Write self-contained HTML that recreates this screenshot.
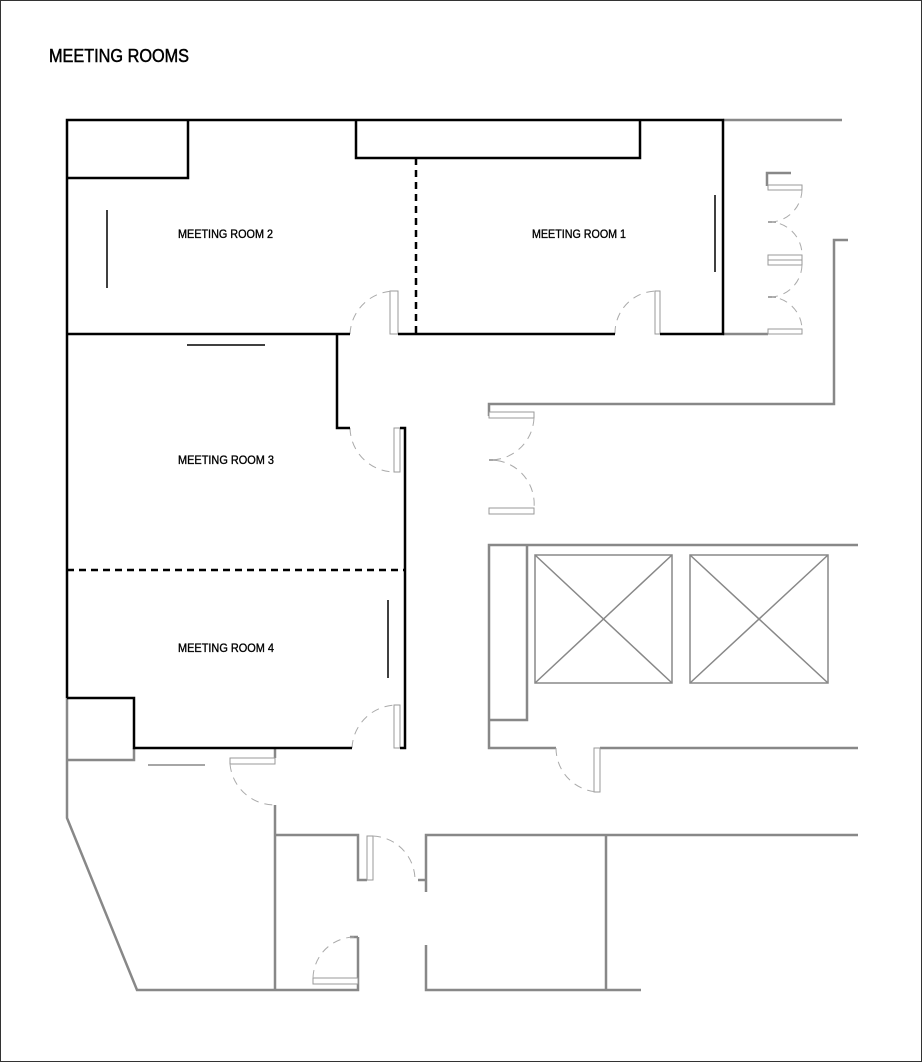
<!DOCTYPE html>
<html><head><style>
html,body{margin:0;padding:0;background:#fff;}
svg{display:block}
text{font-family:"Liberation Sans",sans-serif;fill:#000;stroke:#000;stroke-width:0.35}
</style></head><body>
<svg width="922" height="1062" viewBox="0 0 922 1062" xmlns="http://www.w3.org/2000/svg">
<rect x="0.5" y="0.5" width="921" height="1061" fill="#fff" stroke="#333" stroke-width="1"/>
<text x="49" y="62" font-size="18" style="stroke-width:0.5" textLength="140" lengthAdjust="spacingAndGlyphs">MEETING ROOMS</text>
<g font-size="12" >
<text x="178" y="238" textLength="95" lengthAdjust="spacingAndGlyphs">MEETING ROOM 2</text>
<text x="532" y="238" textLength="94" lengthAdjust="spacingAndGlyphs">MEETING ROOM 1</text>
<text x="178" y="464" textLength="96" lengthAdjust="spacingAndGlyphs">MEETING ROOM 3</text>
<text x="178" y="652" textLength="96" lengthAdjust="spacingAndGlyphs">MEETING ROOM 4</text>
</g>
<g stroke="#888" stroke-width="2.5" fill="none">
<path d="M723 120H842"/>
<path d="M723 334H768"/>
<path d="M767 186V173H791"/>
<path d="M848 240H834V404H489V416"/>
<path d="M858 545H489V748H556"/>
<path d="M489 720H527V545"/>
<path d="M600 748H858"/>
<path d="M858 835H426V892"/>
<path d="M426 945V990H641"/>
<path d="M606 835V990"/>
<path d="M67 698V818L137 990H358V937"/>
<path d="M67 760H134V748"/>
<path d="M275 748V758"/>
<path d="M275 805V990"/>
<path d="M275 835H358V880H367"/>
<path d="M418 880H426"/>
<path d="M358 937H350"/>
</g>
<g stroke="#888" stroke-width="1.5" fill="none">
<rect x="535" y="555" width="137" height="128"/>
<path d="M535 555L672 683M672 555L535 683"/>
<rect x="690" y="555" width="138" height="128"/>
<path d="M690 555L828 683M828 555L690 683"/>
<path d="M148 765H205"/>
<path d="M768 222H776M768 297H776M489 460H497"/>
</g>
<g stroke="#999" stroke-width="1" fill="#fff">
<rect x="390" y="291" width="8" height="43"/>
<rect x="655" y="291" width="5" height="43"/>
<rect x="394" y="428" width="6" height="44"/>
<rect x="394" y="705" width="6" height="43"/>
<rect x="768" y="185" width="34" height="5"/>
<rect x="768" y="255" width="34" height="5"/>
<rect x="768" y="260" width="34" height="5"/>
<rect x="768" y="329" width="34" height="5"/>
<rect x="489" y="412" width="45" height="6"/>
<rect x="489" y="508" width="45" height="6"/>
<rect x="594" y="748" width="6" height="44"/>
<rect x="230" y="758" width="45" height="6"/>
<rect x="367" y="836" width="6" height="44"/>
<rect x="313" y="978" width="45" height="6"/>
</g>
<g stroke="#aaa" stroke-width="1" fill="none" stroke-dasharray="8,6">
<path d="M350 334A45 45 0 0 1 394 291"/>
<path d="M350 428A45 45 0 0 0 394 472"/>
<path d="M615 334A42 42 0 0 1 657 291"/>
<path d="M352 748A45 45 0 0 1 396 705"/>
<path d="M802 190A33 33 0 0 1 772 222A33 33 0 0 1 802 255"/>
<path d="M802 265A33 33 0 0 1 772 297A33 33 0 0 1 802 329"/>
<path d="M534 418A44 44 0 0 1 492 460A44 44 0 0 1 534 508"/>
<path d="M556 748A44 44 0 0 0 600 792"/>
<path d="M230 764A45 45 0 0 0 275 805"/>
<path d="M373 836A44 44 0 0 1 415 880"/>
<path d="M313 978A42 42 0 0 1 355 937"/>
</g>
<g stroke="#000" stroke-width="2.5" fill="none">
<path d="M67 698V120H723V334H660"/>
<path d="M67 178H188V120"/>
<path d="M356 120V158H640V120"/>
<path d="M67 334H350"/>
<path d="M398 334H615"/>
<path d="M337 334V428H350"/>
<path d="M400 428H405V748H400"/>
<path d="M67 698H134V748H352"/>
</g>
<g stroke="#000" stroke-width="2.5" fill="none" stroke-dasharray="7,5">
<path d="M416 158V333"/>
<path d="M67 570H405"/>
</g>
<g stroke="#000" stroke-width="1.5">
<path d="M107 210V288"/>
<path d="M187 345H265"/>
<path d="M715 195V272"/>
<path d="M388 600V678"/>
</g>
</svg>
</body></html>
